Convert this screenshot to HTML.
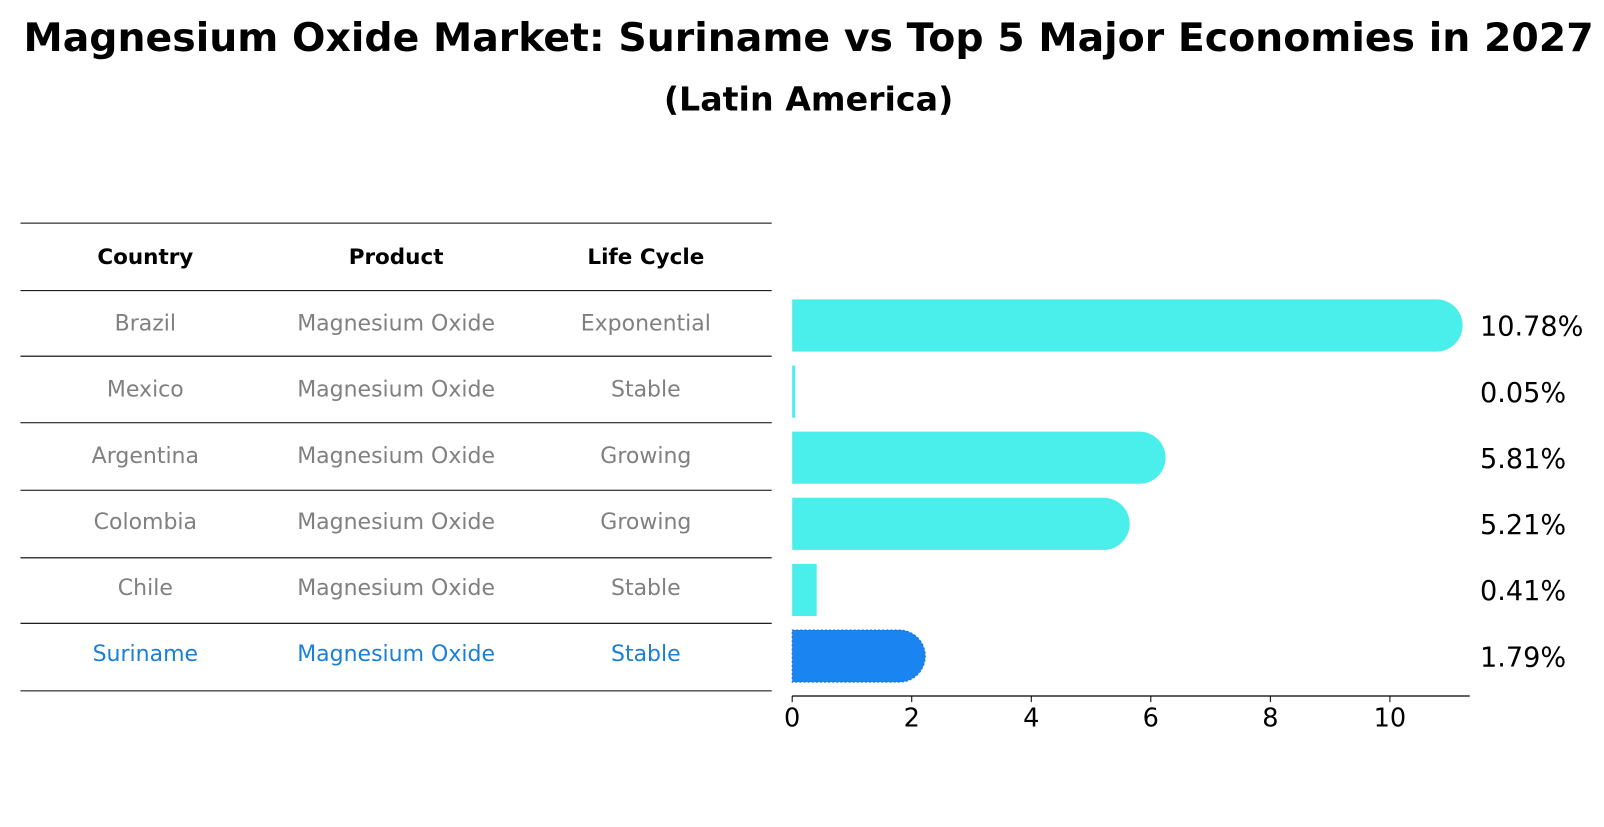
<!DOCTYPE html>
<html><head><meta charset="utf-8"><style>
body{margin:0;background:#fff;font-family:"DejaVu Sans","Liberation Sans",sans-serif;}
svg text{font-family:"DejaVu Sans","Liberation Sans",sans-serif;}
</style></head><body>
<svg id="c" width="1604" height="823" xmlns="http://www.w3.org/2000/svg">
<g transform="scale(1.0235)">
<text x="790" y="50" text-anchor="middle" font-size="38.5" font-weight="bold">Magnesium Oxide Market: Suriname vs Top 5 Major Economies in 2027</text>
<text x="790" y="108" text-anchor="middle" font-size="32.5" font-weight="bold">(Latin America)</text>
<g id="table"></g>
<g id="bars"></g>
<g id="axis"></g>
</g>
</svg>
<script>
const countries=["Brazil","Mexico","Argentina","Colombia","Chile","Suriname"];
const products=["Magnesium Oxide","Magnesium Oxide","Magnesium Oxide","Magnesium Oxide","Magnesium Oxide","Magnesium Oxide"];
const lifeCycles=["Exponential","Stable","Growing","Growing","Stable","Stable"];
const values=[10.78,0.05,5.81,5.21,0.41,1.79];
const xTicks=[0,2,4,6,8,10];
const NS="http://www.w3.org/2000/svg";
function mk(t,a,p){const e=document.createElementNS(NS,t);for(const k in a)e.setAttribute(k,a[k]);p.appendChild(e);return e;}
const x0=774,pxPer=58.4;
function xs(v){return x0+v*pxPer;}
const rowY0=316,rowH=64.6,barH=51;
function ys(i){return rowY0+i*rowH;}
const tbl=document.getElementById('table');
const lines=[218,284,348,413,479,545,609,675];
lines.forEach((y,i)=>{const l=mk('line',{x1:20,x2:754,y1:y,y2:y,stroke:'#000','stroke-width':1},tbl);

});
const colX=[142,387,631];
["Country","Product","Life Cycle"].forEach((h,j)=>{const t=mk('text',{x:colX[j],y:258,'text-anchor':'middle','font-size':21,'font-weight':'bold'},tbl);t.textContent=h;

});
countries.forEach((c,i)=>{const last=i===countries.length-1;const col=last?'#1a7fd6':'#808080';
[c,products[i],lifeCycles[i]].forEach((v,j)=>{const t=mk('text',{x:colX[j],y:ys(i)+7,'text-anchor':'middle','font-size':21.5,fill:col},tbl);t.textContent=v;

});});
const bars=document.getElementById('bars');
values.forEach((v,i)=>{const last=i===values.length-1;const col=last?'#1a85f0':'#4aeeea';
const w=xs(v)-x0;const y=ys(i)+2-barH/2;const r=barH/2;let el;
if(w>2*r){const xe=xs(v);el=mk('path',{d:`M${x0},${y}H${xe}A${r},${r} 0 0 1 ${xe},${y+barH}H${x0}Z`,fill:col},bars);
if(last){el.setAttribute('stroke','#1570d0');el.setAttribute('stroke-dasharray','2,2');}}
else el=mk('rect',{x:x0,y:y,width:Math.max(w,2.5),height:barH,fill:col},bars);


const t=mk('text',{x:1446,y:ys(i)+12,'font-size':26.5},bars);t.textContent=v.toFixed(2)+'%';

});
const ax=document.getElementById('axis');
mk('line',{x1:x0,x2:1436,y1:680,y2:680,stroke:'#000','stroke-width':1.3},ax);
xTicks.forEach(v=>{mk('line',{x1:xs(v),x2:xs(v),y1:680,y2:686,stroke:'#000'},ax);
const t=mk('text',{x:xs(v),y:710,'text-anchor':'middle','font-size':25},ax);t.textContent=v;

});
</script>
</body></html>
